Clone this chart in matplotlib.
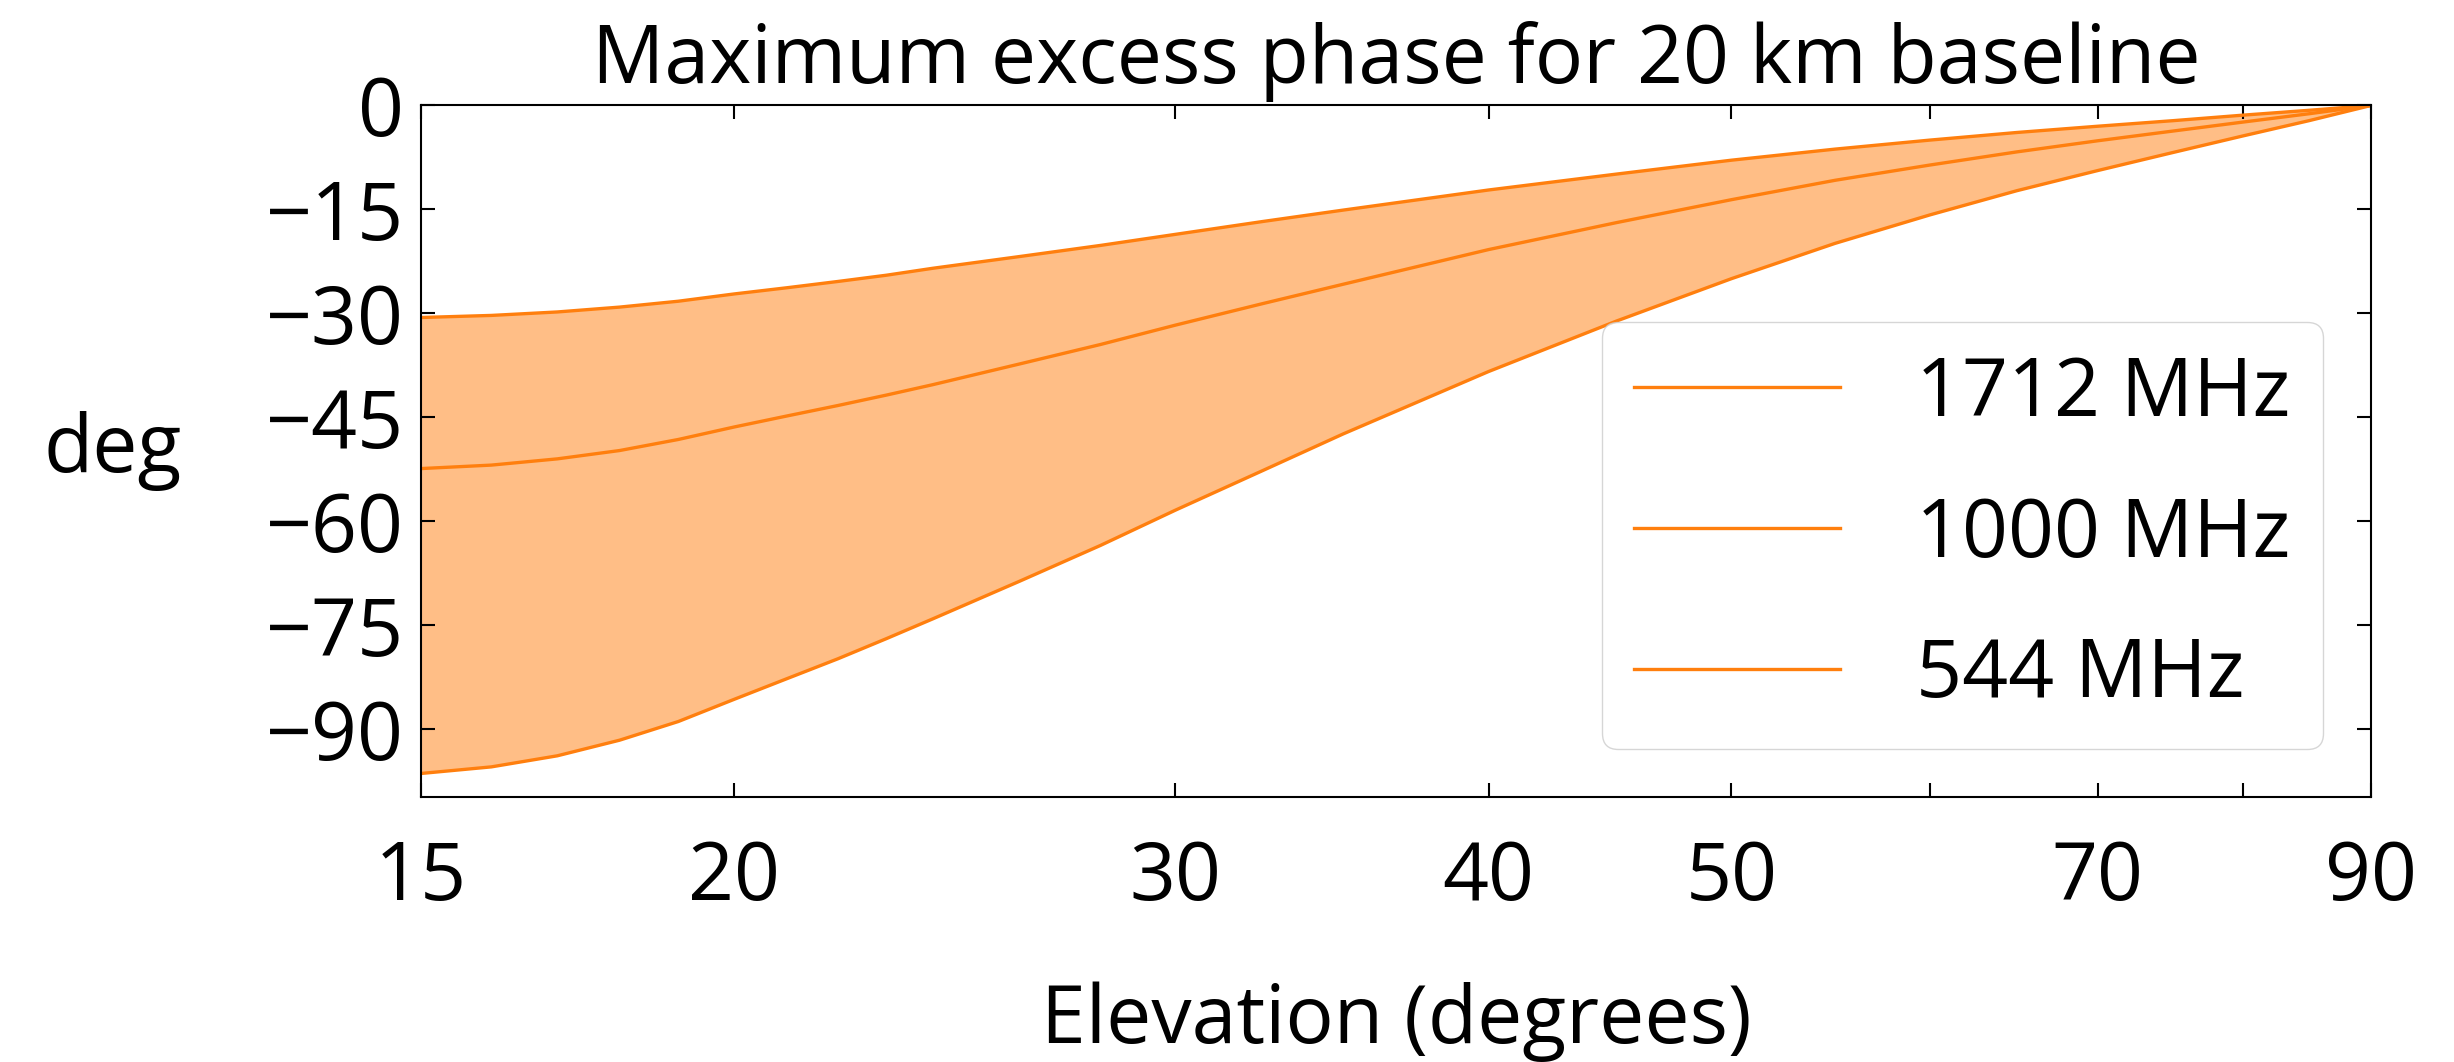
import matplotlib
matplotlib.use("Agg")
import matplotlib.pyplot as plt

plt.rcParams['font.family'] = ['Open Sans', 'DejaVu Sans']

# elevation (degrees) and max excess phase (deg)
elevation = [15, 16, 17, 18, 19, 20, 21, 22, 23, 24, 26, 28, 30, 32.5, 35, 40, 45, 50,
             55, 60, 65, 70, 75, 80, 85, 90]
phase_1712 = [-30.6, -30.3, -29.8, -29.1, -28.25, -27.2, -26.3, -25.4, -24.5, -23.5,
              -21.8, -20.2, -18.6, -16.75, -15.1, -12.2, -9.9, -7.9, -6.3, -5.0, -3.9,
              -3.0, -2.2, -1.4, -0.7, 0.0]
phase_1000 = [-52.4, -51.9, -51.0, -49.8, -48.2, -46.4, -44.8, -43.3, -41.8, -40.3,
              -37.3, -34.5, -31.7, -28.6, -25.8, -20.8, -16.9, -13.6, -10.8, -8.6, -6.7,
              -5.1, -3.7, -2.4, -1.2, 0.0]
phase_544 = [-96.4, -95.45, -93.85, -91.6, -88.9, -85.7, -82.7, -79.85, -76.95, -74.1,
             -68.65, -63.5, -58.4, -52.7, -47.4, -38.4, -31.1, -25.0, -19.9, -15.8, -12.3,
             -9.4, -6.8, -4.4, -2.2, 0.0]
labels = ['1712 MHz', '1000 MHz', '544 MHz']

xticks = [15, 20, 30, 40, 50, 60, 70, 80, 90]
xticklabels = ['15', '20', '30', '40', '50', '', '70', '', '90']
yticks = [0, -15, -30, -45, -60, -75, -90]

fs = 58
color = '#ff7f0e'

fig = plt.figure(figsize=(24.54, 10.62), dpi=100)
ax = fig.add_axes([0.1716, 0.2495, 0.9662 - 0.1716, 0.9007 - 0.2495])

for vals, lab in zip([phase_1712, phase_1000, phase_544], labels):
    ax.plot(elevation, vals, color=color, lw=2.4, label=lab)
ax.fill_between(elevation, phase_544, phase_1712, color=color, alpha=0.5, lw=0)

ax.set_xscale('log')
ax.set_xlim(15, 90)
ax.set_ylim(-99.8, 0)
ax.set_xticks(xticks)
ax.set_xticklabels(xticklabels)
ax.xaxis.set_minor_locator(matplotlib.ticker.NullLocator())
ax.set_yticks(yticks)
ax.tick_params(direction='in', top=True, right=True, length=10, width=1.5,
               labelsize=fs, pad=12)
ax.tick_params(axis='x', pad=30)
for s in ax.spines.values():
    s.set_linewidth(1.5)

ax.set_title('Maximum excess phase for 20 km baseline', fontsize=fs, pad=16)
ax.set_xlabel('Elevation (degrees)', fontsize=fs, labelpad=45)
ax.set_ylabel('deg', fontsize=fs, rotation=0, va='center', ha='center')
ax.yaxis.set_label_coords(-0.158, 0.5)
ax.legend(loc='lower right', fontsize=fs, handlelength=2.55,
          handletextpad=0.95, labelspacing=0.75, borderaxespad=0.6)

fig.savefig('out.png', dpi=100)
